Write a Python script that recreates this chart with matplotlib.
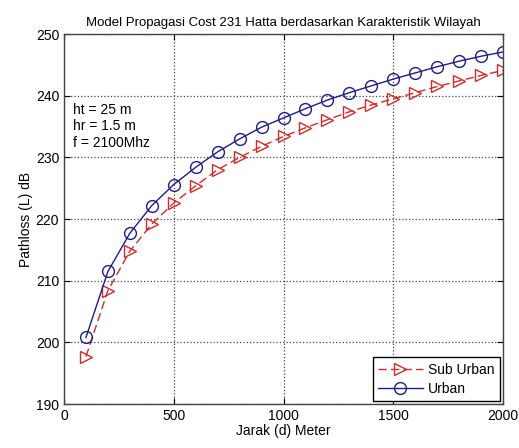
import matplotlib
matplotlib.use("Agg")
import matplotlib.pyplot as plt

plt.rcParams['font.family'] = ['Liberation Sans', 'DejaVu Sans']

jarak = [100, 200, 300, 400, 500, 600, 700, 800, 900, 1000,
         1100, 1200, 1300, 1400, 1500, 1600, 1700, 1800, 1900, 2000]
urban = [200.8, 211.5, 217.7, 222.2, 225.6, 228.4, 230.9, 233.0, 234.9, 236.4,
         237.9, 239.3, 240.5, 241.6, 242.7, 243.7, 244.7, 245.6, 246.4, 247.1]
sub_urban = [197.7, 208.4, 214.8, 219.2, 222.6, 225.4, 228.0, 230.0, 231.8, 233.4,
             234.8, 236.1, 237.4, 238.5, 239.5, 240.5, 241.5, 242.4, 243.3, 244.1]

fig = plt.figure(figsize=(5.19, 4.48), dpi=100)
ax = fig.add_axes([0.1233, 0.098, 0.846, 0.826])

ax.plot(jarak, sub_urban, linestyle=(0, (6, 3)), color='#d42a2a', marker='>',
        markersize=8.5, markerfacecolor='none', markeredgecolor='#d42a2a',
        linewidth=1.0, label='Sub Urban')
ax.plot(jarak, urban, linestyle='-', color='#1c1c8c', marker='o',
        markersize=8.5, markerfacecolor='none', markeredgecolor='#1c1c8c',
        linewidth=1.0, label='Urban')

ax.set_xlim(0, 2000)
ax.set_ylim(190, 250)
ax.set_xticks([0, 500, 1000, 1500, 2000])
ax.set_yticks([190, 200, 210, 220, 230, 240, 250])
ax.tick_params(direction='in', labelsize=10, length=4, top=True, right=True)
ax.grid(True, linestyle=':', color='#444444', linewidth=0.9)
for s in ax.spines.values():
    s.set_color('#444444')
    s.set_linewidth(1.0)

ax.set_xlabel('Jarak (d) Meter', fontsize=10, labelpad=1)
ax.set_ylabel('Pathloss (L) dB', fontsize=10, labelpad=2)
ax.set_title('Model Propagasi Cost 231 Hatta berdasarkan Karakteristik Wilayah',
             fontsize=9.5, pad=6)

ax.text(0.02, 0.815, 'ht = 25 m\nhr = 1.5 m\nf = 2100Mhz', transform=ax.transAxes,
        fontsize=10, va='top', ha='left', linespacing=1.25)

leg = ax.legend(loc='lower right', fontsize=10, fancybox=False, framealpha=1,
                edgecolor='black', borderaxespad=0.2, handlelength=3.2,
                borderpad=0.4, labelspacing=0.35, handletextpad=0.4)
leg.get_frame().set_linewidth(1.0)

fig.savefig('out.png', dpi=100, facecolor='white')
